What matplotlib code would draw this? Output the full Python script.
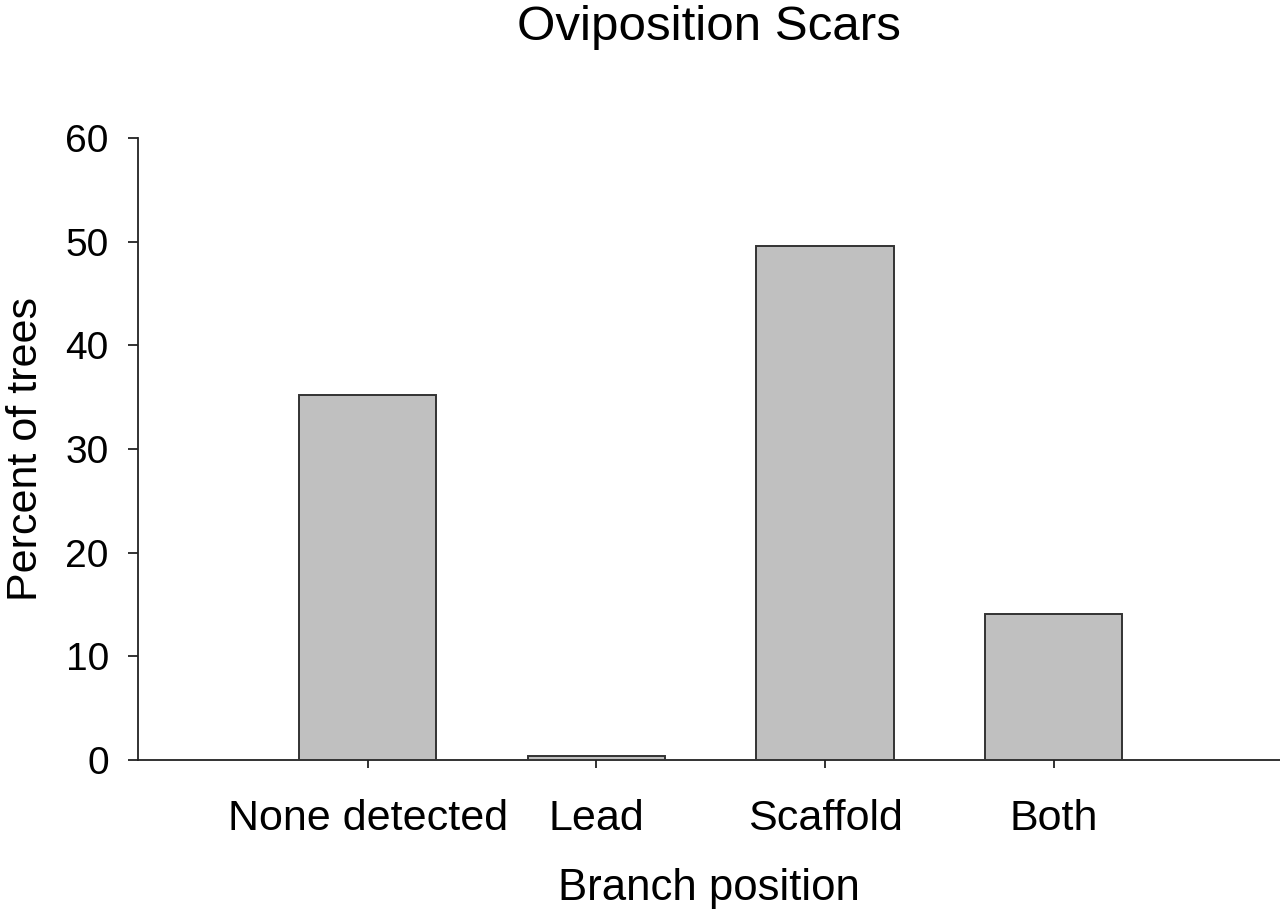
import matplotlib
matplotlib.use("Agg")
import matplotlib.pyplot as plt

categories = ["None detected", "Lead", "Scaffold", "Both"]
percent_trees = [35.2, 0.4, 49.6, 14.1]
y_ticks = [0, 10, 20, 30, 40, 50, 60]

plt.rcParams['font.family'] = ['Liberation Sans', 'DejaVu Sans']

fig = plt.figure(figsize=(12.8, 9.14), dpi=100)
ax = fig.add_axes([138/1280, 1 - 760/914, 1 - 138/1280, (760 - 138)/914])

x = list(range(len(categories)))
ax.bar(x, percent_trees, width=0.6, color="#c0c0c0", edgecolor="#333333", linewidth=1.4, zorder=3)

ax.set_xlim(-1.005, 3.99)
ax.set_ylim(0, 60)
ax.set_yticks(y_ticks)
ax.set_xticks(x)
ax.set_xticklabels(categories)

for s in ["top", "right"]:
    ax.spines[s].set_visible(False)
for s in ["left", "bottom"]:
    ax.spines[s].set_color("#222222")
    ax.spines[s].set_linewidth(1.3)

ax.tick_params(axis="y", direction="out", length=7, width=1.3, pad=14, labelsize=28, colors="#222222", labelcolor="black")
ax.tick_params(axis="x", direction="out", length=6, width=1.3, pad=22, labelsize=31, colors="#222222", labelcolor="black")

ax.set_xlabel("Branch position", fontsize=31.5, labelpad=21)
ax.set_ylabel("Percent of trees", fontsize=31, labelpad=14)
fig.suptitle("Oviposition Scars", fontsize=35.5, x=709/1280, y=1 - 27/914, va="center")

fig.savefig("out.png", dpi=100, facecolor="white")
